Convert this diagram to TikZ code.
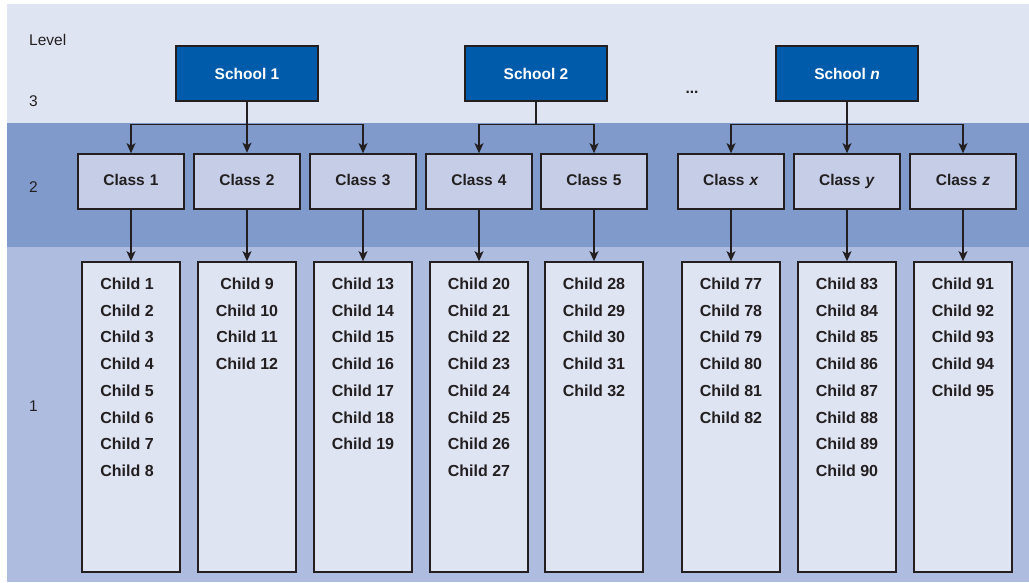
\documentclass[tikz,border=0pt]{standalone}
\usepackage{fontspec}
\setmainfont{Liberation Sans}
\usetikzlibrary{arrows.meta}
\definecolor{bandtop}{RGB}{223,228,242}
\definecolor{bandmid}{RGB}{127,154,203}
\definecolor{bandlow}{RGB}{174,188,223}
\definecolor{classfill}{RGB}{197,206,230}
\definecolor{childfill}{RGB}{223,228,242}
\definecolor{schoolblue}{RGB}{0,91,170}
\definecolor{ink}{RGB}{35,31,32}
\tikzset{
  school/.style={draw=ink, line width=1.6pt, fill=schoolblue, text=white, font=\bfseries\fontsize{15.5}{18}\selectfont, minimum width=142pt, minimum height=55pt, inner sep=0pt},
  classbox/.style={draw=ink, line width=1.6pt, fill=classfill, text=ink, font=\bfseries\fontsize{15.5}{18}\selectfont, minimum width=106pt, minimum height=55pt, inner sep=0pt, text height=11.2pt, text depth=0pt, text width=106pt, align=center},
  childbox/.style={draw=ink, line width=1.6pt, fill=childfill, minimum width=98pt, minimum height=310pt, inner sep=0pt},
  childtext/.style={anchor=north, align=center, inner sep=0pt, text=ink, font=\bfseries\fontsize{16}{26.75}\selectfont},
  levellabel/.style={anchor=west, inner sep=0pt, text=ink, font=\fontsize{15.5}{18}\selectfont},
  arr/.style={draw=ink, line width=1.2pt, -{Stealth[length=10pt,width=9pt,inset=2.5pt]}},
  conn/.style={draw=ink, line width=1.2pt}
}
\begin{document}
\begin{tikzpicture}[x=1pt,y=-1pt]
\useasboundingbox (0,0) rectangle (1029,582);
% bands
\fill[bandtop] (7,4) rectangle (1029,123);
\fill[bandmid] (7,123) rectangle (1029,247);
\fill[bandlow] (7,247) rectangle (1029,582);
% level labels
\node[levellabel] (lvl) at (29,40) {Level};
\node[levellabel] (l3) at (29,101) {3};
\node[levellabel] (l2) at (29,187) {2};
\node[levellabel] (l1) at (29,406) {1};
% schools
\node[school] (s1) at (247,73.5) {School 1};
\node[school] (s2) at (536,73.5) {School 2};
\node[school] (sn) at (847,73.5) {School \textit{n}};
\node[inner sep=0pt, text=ink, font=\bfseries\fontsize{15.5}{18}\selectfont] (dots) at (692,92) {...};
% classes
\begin{scope}[every node/.append style={yshift=2pt}]
\end{scope}
\node[classbox] (c1) at (131,181.5) {\raisebox{2pt}{Class 1}};
\node[classbox, line width=2.6pt] (c2) at (247,181.5) {\raisebox{2pt}{Class 2}};
\node[classbox] (c3) at (363,181.5) {\raisebox{2pt}{Class 3}};
\node[classbox] (c4) at (479,181.5) {\raisebox{2pt}{Class 4}};
\node[classbox] (c5) at (594,181.5) {\raisebox{2pt}{Class 5}};
\node[classbox] (cx) at (731,181.5) {\raisebox{2pt}{Class \textit{x}}};
\node[classbox] (cy) at (847,181.5) {\raisebox{2pt}{Class \textit{y}}};
\node[classbox] (cz) at (963,181.5) {\raisebox{2pt}{Class \textit{z}}};
% child boxes
\foreach \n/\x in {1/131,2/247,3/363,4/479,5/594,x/731,y/847,z/963}{
  \node[childbox] (k\n) at (\x,417) {};
}
\node[childtext] (t1) at (127,277.5) {Child 1\\Child 2\\Child 3\\Child 4\\Child 5\\Child 6\\Child 7\\Child 8};
\node[childtext] (t2) at (247,277.5) {Child 9\\Child 10\\Child 11\\Child 12};
\node[childtext] (t3) at (363,277.5) {Child 13\\Child 14\\Child 15\\Child 16\\Child 17\\Child 18\\Child 19};
\node[childtext] (t4) at (479,277.5) {Child 20\\Child 21\\Child 22\\Child 23\\Child 24\\Child 25\\Child 26\\Child 27};
\node[childtext] (t5) at (594,277.5) {Child 28\\Child 29\\Child 30\\Child 31\\Child 32};
\node[childtext] (tx) at (731,277.5) {Child 77\\Child 78\\Child 79\\Child 80\\Child 81\\Child 82};
\node[childtext] (ty) at (847,277.5) {Child 83\\Child 84\\Child 85\\Child 86\\Child 87\\Child 88\\Child 89\\Child 90};
\node[childtext] (tz) at (963,277.5) {Child 91\\Child 92\\Child 93\\Child 94\\Child 95};
% school to class connectors
\coordinate (b1) at (247,124.5);
\coordinate (b2) at (536,124.5);
\coordinate (bn) at (847,124.5);
\draw[arr] (s1.south) -- (c2.north);
\draw[arr] (b1) -| (c1.north);
\draw[arr] (b1) -| (c3.north);
\draw[conn] (s2.south) -- (b2);
\draw[arr] (b2) -| (c4.north);
\draw[arr] (b2) -| (c5.north);
\draw[arr] (sn.south) -- (cy.north);
\draw[arr] (bn) -| (cx.north);
\draw[arr] (bn) -| (cz.north);
% class to child connectors
\foreach \n in {1,2,3,4,5,x,y,z}{
  \draw[arr] (c\n.south) -- (k\n.north);
}
\end{tikzpicture}
\end{document}
